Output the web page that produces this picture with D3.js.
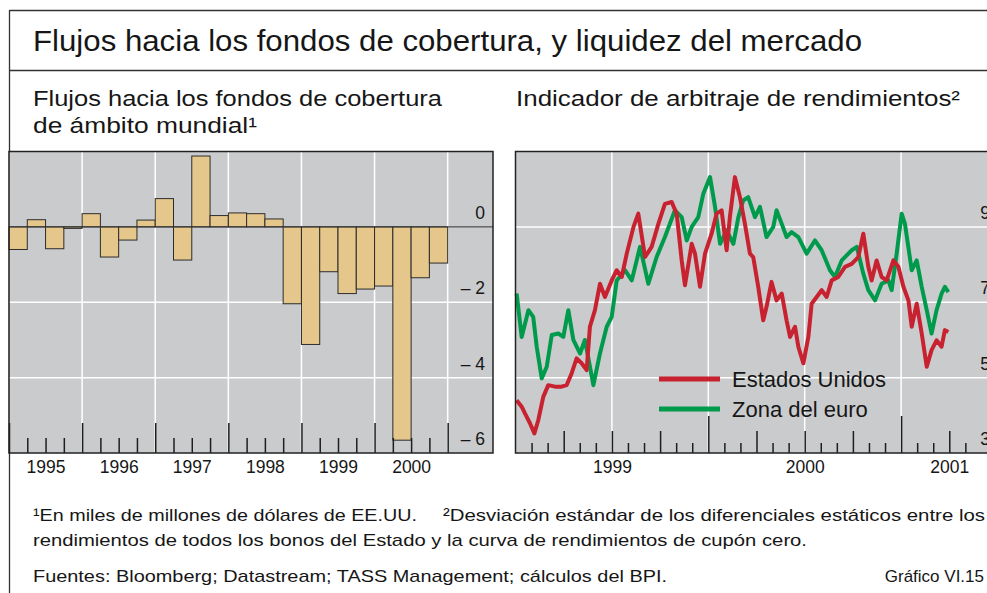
<!DOCTYPE html>
<html>
<head>
<meta charset="utf-8">
<script src="https://cdn.jsdelivr.net/npm/d3@7"></script>
<style>
  body { margin: 0; background: #fff; }
  svg { display: block; }
  text { font-family: "Liberation Sans", Arial, sans-serif; fill: #161616; }
</style>
</head>
<body>
<svg id="chart" width="987" height="593"></svg>
<script>
// ---- data: left panel, quarterly flows (billions of US$) ----
const quarters = ["1995-1","1995-2","1995-3","1995-4","1996-1","1996-2","1996-3","1996-4",
  "1997-1","1997-2","1997-3","1997-4","1998-1","1998-2","1998-3","1998-4",
  "1999-1","1999-2","1999-3","1999-4","2000-1","2000-2","2000-3","2000-4"];
const flows = [-0.60, 0.19, -0.58, -0.04, 0.35, -0.80, -0.35, 0.18,
  0.75, -0.88, 1.88, 0.30, 0.37, 0.35, 0.21, -2.04,
  -3.12, -1.19, -1.77, -1.65, -1.57, -5.66, -1.35, -0.96];
const leftYears = [1995, 1996, 1997, 1998, 1999, 2000];
const leftTicks = [0, -2, -4, -6];
const leftTickLabels = ["0", "– 2", "– 4", "– 6"];

// ---- data: right panel, yield arbitrage indicator ----
const usT = [1999.006,1999.032,1999.049,1999.075,1999.098,1999.118,1999.144,1999.170,1999.205,1999.239,
  1999.265,1999.291,1999.317,1999.343,1999.369,1999.386,1999.412,1999.438,1999.464,1999.499,
  1999.525,1999.551,1999.577,1999.612,1999.637,1999.672,1999.706,1999.741,1999.775,1999.810,
  1999.836,1999.862,1999.879,1999.914,1999.931,1999.957,1999.983,2000.017,2000.043,2000.069,
  2000.095,2000.112,2000.138,2000.164,2000.190,2000.216,2000.233,2000.259,2000.285,2000.302,
  2000.328,2000.354,2000.381,2000.406,2000.424,2000.450,2000.467,2000.493,2000.519,2000.536,
  2000.562,2000.588,2000.614,2000.640,2000.674,2000.709,2000.744,2000.778,2000.804,2000.830,
  2000.847,2000.873,2000.899,2000.925,2000.960,2000.986,2001.012,2001.038,2001.055,2001.081,
  2001.107,2001.133,2001.158,2001.184,2001.210,2001.227,2001.245];
const usV = [4.40,4.23,4.05,3.79,3.52,3.87,4.49,4.80,4.76,4.76,
  4.80,5.11,5.51,5.38,5.20,6.35,6.79,7.49,7.14,7.58,
  7.85,7.67,8.29,9.00,9.35,8.20,8.47,9.08,9.61,9.66,
  9.35,8.11,7.45,8.55,8.29,7.41,8.29,8.82,9.35,9.44,
  8.38,9.26,10.32,9.79,9.08,8.29,8.20,7.41,6.52,6.88,
  7.54,7.05,7.23,6.52,6.08,6.35,5.82,5.38,6.08,6.96,
  7.14,7.32,7.14,7.58,7.67,7.94,8.02,8.20,8.82,7.94,
  7.58,8.11,7.67,7.58,8.11,7.94,7.41,7.05,6.35,6.96,
  6.17,5.29,5.73,5.99,5.82,6.26,6.21];
const euT = [1999.006,1999.032,1999.067,1999.092,1999.110,1999.136,1999.162,1999.188,1999.222,1999.248,
  1999.274,1999.300,1999.335,1999.360,1999.404,1999.438,1999.473,1999.499,1999.525,1999.568,
  1999.603,1999.646,1999.689,1999.732,1999.775,1999.827,1999.862,1999.888,1999.914,1999.948,
  1999.974,2000.009,2000.035,2000.061,2000.095,2000.130,2000.156,2000.181,2000.207,2000.242,
  2000.268,2000.302,2000.337,2000.354,2000.381,2000.406,2000.432,2000.467,2000.510,2000.553,
  2000.588,2000.631,2000.657,2000.692,2000.744,2000.770,2000.804,2000.830,2000.865,2000.899,
  2000.934,2000.951,2000.977,2001.003,2001.020,2001.055,2001.081,2001.107,2001.133,2001.158,
  2001.184,2001.210,2001.227,2001.245];
const euV = [7.23,6.08,6.79,6.61,5.82,4.98,5.29,6.13,6.17,6.08,
  6.79,6.00,5.64,6.00,4.80,5.64,6.35,6.61,7.58,7.85,
  7.58,8.47,7.49,8.20,8.73,9.44,9.26,8.64,9.00,9.26,
  9.88,10.32,9.53,8.55,8.91,8.55,9.26,9.70,9.79,9.26,
  9.53,8.73,9.00,9.44,9.08,8.73,8.86,8.73,8.29,8.64,
  8.38,7.85,7.67,8.11,8.38,8.47,7.76,7.32,7.05,7.49,
  7.58,7.32,8.29,9.35,9.08,7.85,8.11,7.41,6.79,6.17,
  6.79,7.23,7.41,7.27];
const rightTicks = [9, 7, 5, 3];
const rightYearLabels = ["1999", "2000", "2001"];
const rightYearLabelAt = [1999.5, 2000.5, 2001.25];
const seriesNames = ["Estados Unidos", "Zona del euro"];
const seriesColors = ["#c8212f", "#009a4c"];

const svg = d3.select("#chart");
const bg = "#cacbcd", ink = "#1e1e1e";

// outer frame + title
svg.append("line").attr("x1", 9.5).attr("x2", 987).attr("y1", 10.5).attr("y2", 10.5)
  .attr("stroke", "#333").attr("stroke-width", 1.3);
svg.append("line").attr("x1", 9.5).attr("x2", 9.5).attr("y1", 10).attr("y2", 593)
  .attr("stroke", "#333").attr("stroke-width", 1.3);
svg.append("line").attr("x1", 9.5).attr("x2", 987).attr("y1", 70.5).attr("y2", 70.5)
  .attr("stroke", "#333").attr("stroke-width", 1.3);

function txt(s, x, y, size, width, anchor) {
  const t = svg.append("text").attr("x", x).attr("y", y)
    .attr("font-size", size).text(s);
  if (anchor) t.attr("text-anchor", anchor);
  if (width) t.attr("textLength", width).attr("lengthAdjust", "spacingAndGlyphs");
  return t;
}
txt("Flujos hacia los fondos de cobertura, y liquidez del mercado", 33, 51, 29, 829);
txt("Flujos hacia los fondos de cobertura", 33, 106, 22, 409);
txt("de ámbito mundial¹", 33, 133, 22, 224);
txt("Indicador de arbitraje de rendimientos²", 516, 106, 22, 444);

// ---- left panel ----
const xL = d3.scaleLinear().domain([1995, 2001.62]).range([9, 493]);
const yL = d3.scaleLinear().domain([-6, 2]).range([453, 151.5]);
const left = svg.append("g");
left.append("rect").attr("x", xL(1995)).attr("y", yL(2))
  .attr("width", xL(2001.62) - xL(1995)).attr("height", yL(-6) - yL(2)).attr("fill", bg);

left.append("g").selectAll("line").data([-2, -4]).join("line")
  .attr("x1", xL(1995)).attr("x2", xL(2001.62)).attr("y1", d => yL(d)).attr("y2", d => yL(d))
  .attr("stroke", "#fff").attr("stroke-width", 1.5);
left.append("g").selectAll("line").data(leftYears.slice(1).concat([2001])).join("line")
  .attr("x1", d => xL(d)).attr("x2", d => xL(d)).attr("y1", yL(2)).attr("y2", yL(-6))
  .attr("stroke", "#fff").attr("stroke-width", 1.5);

const qStart = q => +q.split("-")[0] + (+q.split("-")[1] - 1) / 4;
left.append("g").selectAll("rect").data(quarters).join("rect")
  .attr("x", (q) => xL(qStart(q)))
  .attr("width", xL(1995.25) - xL(1995))
  .attr("y", (q, i) => yL(Math.max(0, flows[i])))
  .attr("height", (q, i) => Math.abs(yL(flows[i]) - yL(0)))
  .attr("fill", "#e5c78c").attr("stroke", "#2c2c2c").attr("stroke-width", 1);

left.append("line").attr("x1", xL(1995)).attr("x2", xL(2001.62))
  .attr("y1", yL(0)).attr("y2", yL(0)).attr("stroke", "#333").attr("stroke-width", 1);

// tick marks pointing up from the bottom
const quarterTicks = [];
leftYears.forEach(y => [0.25, 0.5, 0.75].forEach(f => quarterTicks.push(y + f)));
left.append("g").attr("transform", `translate(0,${yL(-6)})`)
  .call(d3.axisTop(xL).tickValues(leftYears.concat([2001])).tickSize(30).tickFormat(""))
  .call(g => g.select(".domain").remove())
  .call(g => g.selectAll("line").attr("stroke", ink).attr("stroke-width", 1.5));
left.append("g").attr("transform", `translate(0,${yL(-6)})`)
  .call(d3.axisTop(xL).tickValues(quarterTicks).tickSize(15).tickFormat(""))
  .call(g => g.select(".domain").remove())
  .call(g => g.selectAll("line").attr("stroke", ink).attr("stroke-width", 1.5));
left.append("g").attr("transform", `translate(0,${yL(-6)})`)
  .call(d3.axisBottom(xL).tickValues(leftYears.map(y => y + 0.5)).tickSize(0).tickPadding(6)
    .tickFormat(d => String(Math.floor(d))))
  .call(g => g.select(".domain").remove())
  .call(g => g.selectAll("text").attr("font-size", 17.5).attr("fill", ink)
    .attr("dy", null).attr("y", 20).attr("font-family", "Liberation Sans, Arial, sans-serif"));

left.append("g").selectAll("text").data(leftTicks).join("text")
  .attr("x", 485).attr("y", d => yL(d) - 8).attr("text-anchor", "end")
  .attr("font-size", 17.5).text((d, i) => leftTickLabels[i]);

left.append("rect").attr("x", xL(1995)).attr("y", yL(2))
  .attr("width", xL(2001.62) - xL(1995)).attr("height", yL(-6) - yL(2))
  .attr("fill", "none").attr("stroke", "#222").attr("stroke-width", 1.5);

// ---- right panel ----
const xR = d3.scaleLinear().domain([1999, 2001.5]).range([515.5, 997.5]);
const yR = d3.scaleLinear().domain([3, 11]).range([453, 151.5]);
const right = svg.append("g");
right.append("rect").attr("x", xR(1999)).attr("y", yR(11))
  .attr("width", xR(2001.5) - xR(1999)).attr("height", yR(3) - yR(11)).attr("fill", bg);
right.append("g").selectAll("line").data([5, 7, 9]).join("line")
  .attr("x1", xR(1999)).attr("x2", xR(2001.5)).attr("y1", d => yR(d)).attr("y2", d => yR(d))
  .attr("stroke", "#fff").attr("stroke-width", 1.5);
right.append("g").selectAll("line").data([1999.5, 2000, 2000.5, 2001]).join("line")
  .attr("x1", d => xR(d)).attr("x2", d => xR(d)).attr("y1", yR(11)).attr("y2", yR(3))
  .attr("stroke", "#fff").attr("stroke-width", 1.5);

const line = d3.line().x(d => xR(d[0])).y(d => yR(d[1])).curve(d3.curveLinear);
[[euT, euV, 1], [usT, usV, 0]].forEach(([t, v, c]) => {
  right.append("path").datum(t.map((d, i) => [d, v[i]]))
    .attr("d", line).attr("fill", "none").attr("stroke", seriesColors[c])
    .attr("stroke-width", 4).attr("stroke-linejoin", "round");
});

// monthly / quarterly / yearly ticks
const months = d3.range(1, 29).map(m => 1999 + m / 12);
const isYear = m => Math.abs(m - Math.round(m)) < 1e-6;
const isQuarter = m => Math.abs(m * 4 - Math.round(m * 4)) < 1e-6;
right.append("g").attr("transform", `translate(0,${yR(3)})`)
  .call(d3.axisTop(xR).tickValues(months.filter(m => !isQuarter(m))).tickSize(10).tickFormat(""))
  .call(g => g.select(".domain").remove())
  .call(g => g.selectAll("line").attr("stroke", ink).attr("stroke-width", 1.5));
right.append("g").attr("transform", `translate(0,${yR(3)})`)
  .call(d3.axisTop(xR).tickValues(months.filter(m => isQuarter(m) && !isYear(m))).tickSize(22).tickFormat(""))
  .call(g => g.select(".domain").remove())
  .call(g => g.selectAll("line").attr("stroke", ink).attr("stroke-width", 1.5));
right.append("g").attr("transform", `translate(0,${yR(3)})`)
  .call(d3.axisTop(xR).tickValues([2000, 2001]).tickSize(37).tickFormat(""))
  .call(g => g.select(".domain").remove())
  .call(g => g.selectAll("line").attr("stroke", ink).attr("stroke-width", 1.5));
right.append("g").attr("transform", `translate(0,${yR(3)})`)
  .call(d3.axisBottom(xR).tickValues(rightYearLabelAt).tickSize(0).tickPadding(6)
    .tickFormat((d, i) => rightYearLabels[i]))
  .call(g => g.select(".domain").remove())
  .call(g => g.selectAll("text").attr("font-size", 17.5).attr("fill", ink)
    .attr("dy", null).attr("y", 20).attr("font-family", "Liberation Sans, Arial, sans-serif"));

right.append("g").selectAll("text").data(rightTicks).join("text")
  .attr("x", 990).attr("y", d => yR(d) - 8).attr("text-anchor", "end")
  .attr("font-size", 17.5).text(d => d);

// legend
const legend = right.append("g");
seriesNames.forEach((name, i) => {
  const y = 379 + i * 30;
  legend.append("line").attr("x1", 659).attr("x2", 720).attr("y1", y).attr("y2", y)
    .attr("stroke", seriesColors[i]).attr("stroke-width", 5);
  legend.append("text").attr("x", 732).attr("y", y + 8).attr("font-size", 22).text(name);
});

right.append("rect").attr("x", xR(1999)).attr("y", yR(11))
  .attr("width", xR(2001.5) - xR(1999)).attr("height", yR(3) - yR(11))
  .attr("fill", "none").attr("stroke", "#222").attr("stroke-width", 1.5);

// ---- footnotes ----
txt("¹En miles de millones de dólares de EE.UU.", 33, 521, 17, 384);
txt("²Desviación estándar de los diferenciales estáticos entre los", 443, 521, 17, 542);
txt("rendimientos de todos los bonos del Estado y la curva de rendimientos de cupón cero.", 33, 546, 17, 774);
txt("Fuentes: Bloomberg; Datastream; TASS Management; cálculos del BPI.", 33, 582, 17, 634);
txt("Gráfico VI.15", 984, 582, 17, null, "end");
</script>
</body>
</html>
